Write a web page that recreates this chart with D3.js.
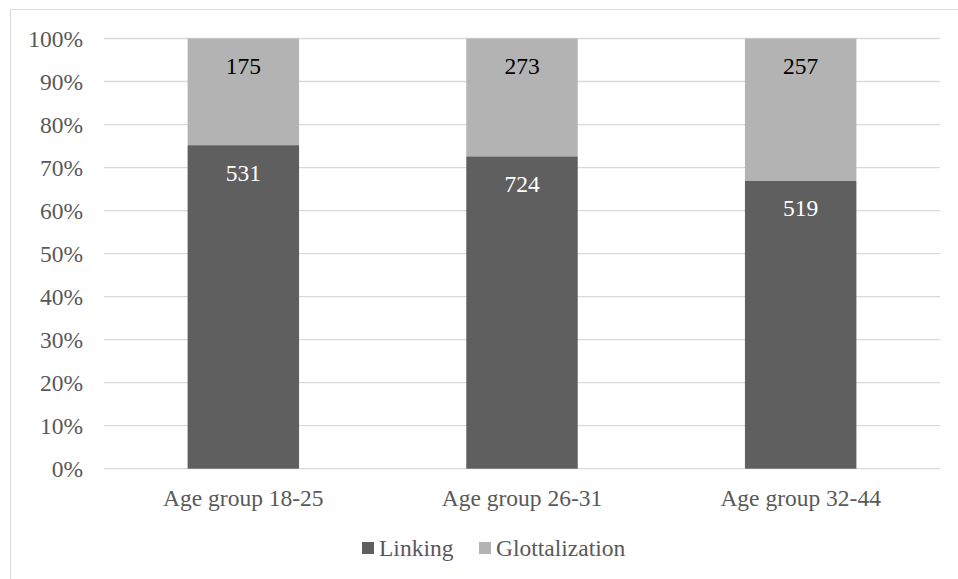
<!DOCTYPE html>
<html>
<head>
<meta charset="utf-8">
<script src="https://cdn.jsdelivr.net/npm/d3@7"></script>
<style>
    body { margin: 0; background: #fff; }
    svg, svg text { font-family: "Liberation Serif", "Times New Roman", Times, serif; }
</style>
</head>
<body>
<svg id="chart" width="958" height="579"></svg>
<script>
const categories = ["Age group 18-25", "Age group 26-31", "Age group 32-44"];
const seriesNames = ["Linking", "Glottalization"];
const linking = [531, 724, 519];
const glottalization = [175, 273, 257];
const yTicks = [0, 0.1, 0.2, 0.3, 0.4, 0.5, 0.6, 0.7, 0.8, 0.9, 1];

const FONT = "'Liberation Serif', 'Times New Roman', Times, serif";
const FONT_SIZE = 23.5;
const COLORS = {Linking: "#5f5f5f", Glottalization: "#b3b3b3"};
const MARGINS = {top: 38.5, right: 18, bottom: 110.3, left: 104};

let svg = d3.select("#chart").attr("font-family", FONT);
let W = 958, H = 579;
let w = W - MARGINS.left - MARGINS.right,
    h = H - MARGINS.top - MARGINS.bottom;

// outer chart border (runs off the picture right/bottom)
svg.append("rect")
    .attr("x", 10.5).attr("y", 9.5)
    .attr("width", 1000).attr("height", 1000)
    .attr("fill", "none")
    .attr("stroke", "#d9d9d9");

let g = svg.append("g")
    .attr("transform", `translate(${MARGINS.left},${MARGINS.top})`);

let rows = categories.map((c, i) => ({
    cat: c,
    Linking: linking[i],
    Glottalization: glottalization[i]
}));

let stack = d3.stack().keys(seriesNames).offset(d3.stackOffsetExpand);
let layers = stack(rows);

let x = d3.scaleBand().domain(categories).range([0, w])
    .paddingInner(0.6).paddingOuter(0.3);
let y = d3.scaleLinear().domain([0, 1]).range([h, 0]);

// gridlines
g.append("g").attr("class", "grid")
    .selectAll("line")
    .data(yTicks)
    .join("line")
        .attr("x1", 0).attr("x2", w)
        .attr("y1", d => y(d))
        .attr("y2", d => y(d))
        .attr("stroke", "#d9d9d9")
        .attr("stroke-width", 1.3);

// y axis labels
let yAxis = d3.axisLeft(y)
    .tickValues(yTicks)
    .tickFormat(d3.format(".0%"))
    .tickSize(0)
    .tickPadding(21);
g.append("g").attr("class", "axis axis-y")
    .call(yAxis)
    .attr("font-family", FONT)
    .attr("font-size", FONT_SIZE)
    .call(s => s.select(".domain").remove())
    .selectAll("text")
        .attr("fill", "#595959");

// x axis labels
let xAxis = d3.axisBottom(x).tickSize(0).tickPadding(20.5);
g.append("g").attr("class", "axis axis-x")
    .attr("transform", `translate(0,${h})`)
    .call(xAxis)
    .attr("font-family", FONT)
    .attr("font-size", FONT_SIZE)
    .call(s => s.select(".domain").remove())
    .selectAll("text")
        .attr("fill", "#595959");

// bars
let layerG = g.selectAll("g.layer")
    .data(layers)
    .join("g")
        .attr("class", "layer")
        .attr("fill", d => COLORS[d.key]);

layerG.selectAll("rect")
    .data(d => d)
    .join("rect")
        .attr("x", d => x(d.data.cat))
        .attr("y", d => y(d[1]))
        .attr("width", x.bandwidth())
        .attr("height", d => y(d[0]) - y(d[1]));

// data labels, inside end
layers.forEach(layer => {
    g.append("g").selectAll("text")
        .data(layer)
        .join("text")
            .attr("x", d => x(d.data.cat) + x.bandwidth() / 2)
            .attr("y", d => y(d[1]) + 35.5)
            .attr("text-anchor", "middle")
            .attr("fill", layer.key === "Linking" ? "#ffffff" : "#000000")
            .attr("font-size", FONT_SIZE)
            .text(d => d.data[layer.key]);
});

// legend
let legend = svg.append("g").attr("class", "legend")
    .attr("transform", "translate(0,548)");
let legendX = [362, 479];
seriesNames.forEach((name, i) => {
    let item = legend.append("g").attr("transform", `translate(${legendX[i]},0)`);
    item.append("rect")
        .attr("x", 0).attr("y", -6)
        .attr("width", 12).attr("height", 12)
        .attr("fill", COLORS[name]);
    item.append("text")
        .attr("x", 17).attr("y", 8)
        .attr("fill", "#595959")
        .attr("font-size", FONT_SIZE)
        .text(name);
});
</script>
</body>
</html>
